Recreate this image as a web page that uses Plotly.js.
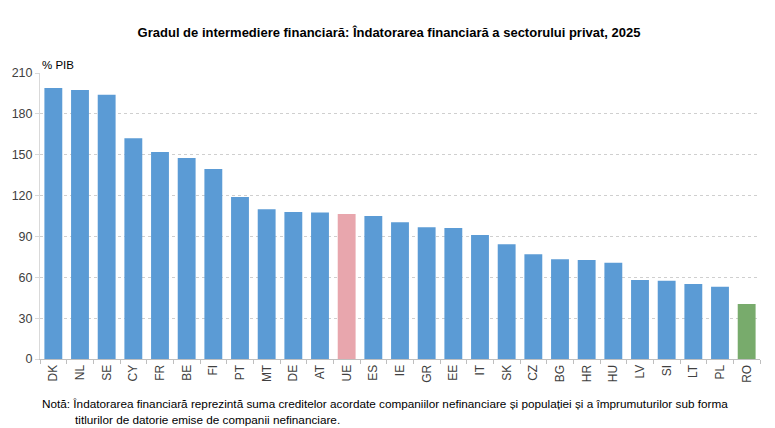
<!DOCTYPE html>
<html>
<head>
<meta charset="utf-8">
<script src="https://cdn.plot.ly/plotly-3.0.1.min.js"></script>
<style>
  html, body { margin: 0; padding: 0; background: #fff; }
  #chart { width: 775px; height: 428px; }
</style>
</head>
<body>
<div id="chart"></div>
<script>
// Country codes, sorted by value
const countries = ['DK', 'NL', 'SE', 'CY', 'FR', 'BE', 'FI', 'PT', 'MT', 'DE', 'AT', 'UE', 'ES', 'IE',
                   'GR', 'EE', 'IT', 'SK', 'CZ', 'BG', 'HR', 'HU', 'LV', 'SI', 'LT', 'PL', 'RO'];

// Private sector debt, % of GDP
const debtPct = [199, 197.5, 194, 162, 152, 147.5, 139.5, 119, 110, 108, 107.5, 106.5, 105, 100.5,
                 96.7, 96.2, 91, 84.2, 77, 73.2, 72.7, 70.7, 58, 57.5, 55, 53, 40.4];

const yTicks = [0, 30, 60, 90, 120, 150, 180, 210];

const BLUE  = '#5b9bd5';
const PINK  = '#e8a6ad';
const GREEN = '#78ab6c';

// EU average in pink, Romania in green, the rest blue
const barColors = countries.map(c => c === 'UE' ? PINK : (c === 'RO' ? GREEN : BLUE));

const FONT = 'Liberation Sans, Arial, sans-serif';

const traces = [
  {
    type: 'bar',
    x: countries,
    y: debtPct,
    marker: { color: barColors },
    hoverinfo: 'x+y',
  },
];

const layout = {
  width: 775,
  height: 428,
  paper_bgcolor: '#fff',
  plot_bgcolor: '#fff',
  font: { family: FONT, color: '#404040', size: 12 },
  margin: { t: 73, r: 15, b: 69, l: 40 },
  showlegend: false,
  bargap: 0.33,
  title: {
    text: '<b>Gradul de intermediere financiară: Îndatorarea financiară a sectorului privat, 2025</b>',
    font: { family: FONT, size: 13, color: '#000' },
    x: 0.502,
    xanchor: 'center',
    y: 0.925,
    yanchor: 'middle',
  },
  xaxis: {
    type: 'category',
    tickangle: -90,
    tickfont: { size: 12, color: '#404040' },
    showline: true,
    linecolor: '#bfbfbf',
    linewidth: 1,
    ticks: 'outside',
    tickson: 'boundaries',
    ticklen: 4,
    tickcolor: '#bfbfbf',
    showgrid: false,
    fixedrange: true,
  },
  yaxis: {
    range: [0, 210],
    tickvals: yTicks,
    tickfont: { size: 12.5, color: '#404040' },
    showline: true,
    linecolor: '#d9d9d9',
    ticks: 'outside',
    ticklen: 4,
    tickcolor: '#d9d9d9',
    gridcolor: '#cfcfcf',
    griddash: 'dot',
    gridwidth: 1,
    zeroline: false,
    fixedrange: true,
  },
  annotations: [
    {
      xref: 'paper', yref: 'paper',
      x: 0, y: 1, xanchor: 'left', yanchor: 'bottom', yshift: 0,
      text: '% PIB', showarrow: false,
      font: { size: 11.5, color: '#000' },
    },
    {
      xref: 'paper', yref: 'paper',
      x: 0, y: 0, xanchor: 'left', yanchor: 'middle', yshift: -44,
      text: 'Notă: Îndatorarea financiară reprezintă suma creditelor acordate companiilor nefinanciare și populației și a împrumuturilor sub forma',
      showarrow: false,
      font: { size: 11.75, color: '#000' },
    },
    {
      xref: 'paper', yref: 'paper',
      x: 0, y: 0, xanchor: 'left', yanchor: 'middle', xshift: 33, yshift: -60,
      text: 'titlurilor de datorie emise de companii nefinanciare.',
      showarrow: false,
      font: { size: 11.75, color: '#000' },
    },
  ],
};

Plotly.newPlot('chart', traces, layout, { displayModeBar: false, staticPlot: true });
</script>
</body>
</html>
